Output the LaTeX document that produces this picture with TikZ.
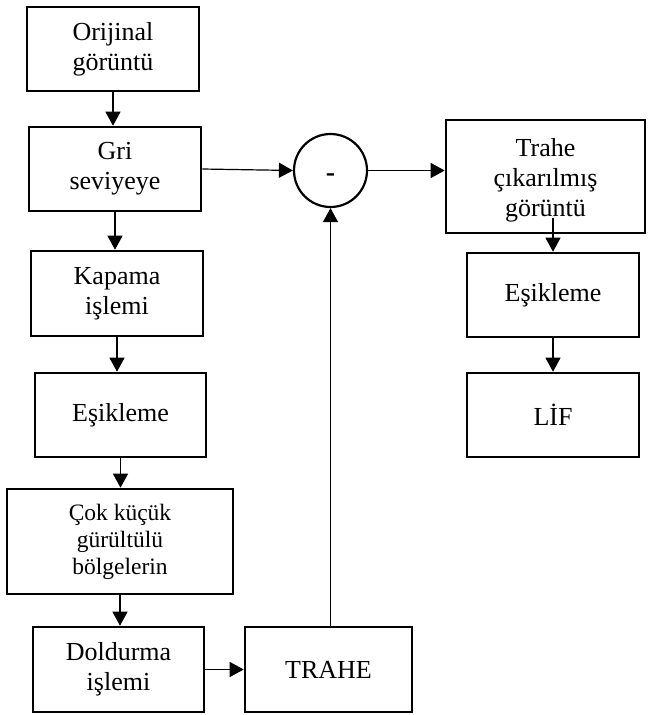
\documentclass[tikz,border=0pt]{standalone}
\usepackage{fontspec}
\setmainfont{Liberation Serif}
\usetikzlibrary{arrows.meta,calc}
\begin{document}
\begin{tikzpicture}[x=1pt,y=-1pt,
  txt/.style={align=center,inner sep=0pt,font=\fontsize{26}{30}\selectfont},
  box/.style={draw,line width=2.6pt,txt},
  arr/.style={line width=1.2pt,-{Triangle[length=14pt,width=15pt]}}]
\useasboundingbox (0,0) rectangle (653,715);
\node[box,minimum width=172pt,minimum height=84pt] (orj) at (113,49) {Orijinal\\görüntü};
\node[box,minimum width=172pt,minimum height=84pt] (gri) at (115,169) {Gri\\seviyeye};
\node[box,minimum width=172pt,minimum height=85pt] (kap) at (117,293.5) {Kapama\\işlemi};
\node[box,minimum width=171pt,minimum height=84pt] (esk) at (120.5,415) {Eşikleme};
\node[box,minimum width=226pt,minimum height=105pt,font=\fontsize{23.5}{27}\selectfont] (cok) at (120,541.5) {Çok küçük\\gürültülü\\bölgelerin};
\node[box,minimum width=171pt,minimum height=85pt] (dol) at (118.5,669.5) {Doldurma\\işlemi};
\node[box,minimum width=167pt,minimum height=85pt] (tra) at (328.5,669.5) {TRAHE};
\node[draw,circle,line width=2.2pt,minimum size=73pt,inner sep=0pt,
  label={[txt,font=\fontsize{28}{30}\selectfont\bfseries,yshift=-7pt]center:-}] (cir) at (330.5,170.5) {};
\node[draw,line width=2.6pt,minimum width=199pt,minimum height=113pt,
  label={[txt,yshift=-4pt]center:Trahe\\çıkarılmış\\görüntü}] (trc) at (545.5,176.5) {};
\node[box,minimum width=172pt,minimum height=84pt] (esr) at (553,295) {Eşikleme};
\node[box,minimum width=172pt,minimum height=84pt] (lif) at (553,415) {LİF};
\coordinate (tstart) at (553,218);
\draw[arr] (orj.south) -- (orj.south |- gri.north);
\draw[arr] (gri.south) -- (gri.south |- kap.north);
\draw[arr] (kap.south) -- (kap.south |- esk.north);
\draw[arr] (esk.south) -- (esk.south |- cok.north);
\draw[arr] (cok.south) -- (cok.south |- dol.north);
\draw[arr] (dol.east) -- (tra.west);
\draw[arr] (cir.south |- tra.north) -- (cir.south);
\draw[arr] (gri.east) -- (cir.west);
\draw[arr] (cir.east) -- (cir.east -| trc.west);
\draw[arr] (tstart) -- (esr.north);
\draw[arr] (esr.south) -- (lif.north);
\end{tikzpicture}
\end{document}
